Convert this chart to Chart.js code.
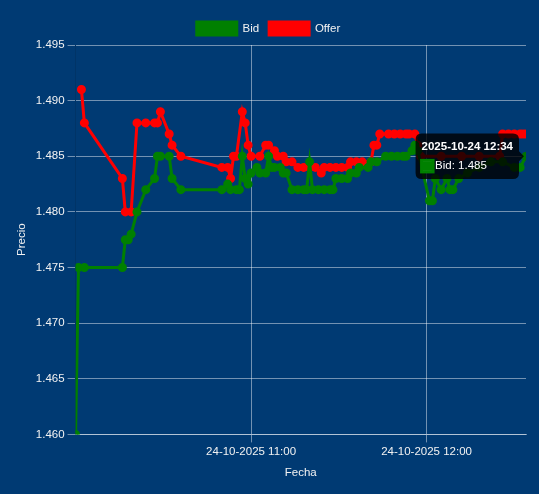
<!DOCTYPE html>
<html>
<head>
<meta charset="utf-8">
<script src="https://cdn.jsdelivr.net/npm/chart.js"></script>
<style>
  body { margin: 0; background: #003a73; }
  canvas { display: block; }
</style>
</head>
<body>
<canvas id="myChart" width="539" height="494"></canvas>
<script>
const fecha = "2025-10-24";
const fechaEje = "24-10-2025";

// Bid
const bidHoras = ["10:00", "10:01", "10:03", "10:16", "10:17", "10:18", "10:19", "10:21", "10:24", "10:27",
    "10:28", "10:29", "10:32", "10:33", "10:36", "10:50", "10:52", "10:53", "10:55", "10:56",
    "10:57", "10:58", "10:59", "11:00", "11:02", "11:03", "11:05", "11:06", "11:07", "11:08",
    "11:10", "11:11", "11:12", "11:14", "11:16", "11:18", "11:19", "11:20", "11:21", "11:23",
    "11:25", "11:27", "11:28", "11:29", "11:31", "11:33", "11:34", "11:36", "11:37", "11:40",
    "11:41", "11:43", "11:46", "11:48", "11:50", "11:52", "11:53", "11:55", "11:56", "11:57",
    "12:01", "12:02", "12:03", "12:05", "12:07", "12:08", "12:09", "12:11", "12:14", "12:18",
    "12:22", "12:26", "12:30", "12:32", "12:34"];
const bidValores = [1.460, 1.475, 1.475, 1.475, 1.4775, 1.4775, 1.478, 1.480, 1.482, 1.483,
    1.485, 1.485, 1.485, 1.483, 1.482, 1.482, 1.4825, 1.482, 1.482, 1.482,
    1.485, 1.483, 1.4825, 1.4835, 1.484, 1.4835, 1.4835, 1.485, 1.484, 1.484,
    1.484, 1.4835, 1.4835, 1.482, 1.482, 1.482, 1.482, 1.4845, 1.482, 1.482,
    1.482, 1.482, 1.482, 1.483, 1.483, 1.483, 1.4835, 1.4835, 1.484, 1.484,
    1.4845, 1.4845, 1.485, 1.485, 1.485, 1.485, 1.485, 1.4855, 1.486, 1.4855,
    1.481, 1.481, 1.483, 1.482, 1.483, 1.482, 1.482, 1.483, 1.4835, 1.484,
    1.4845, 1.4845, 1.484, 1.484, 1.485];

// Offer
const offerHoras = ["10:02", "10:03", "10:16", "10:17", "10:19", "10:21", "10:24", "10:27", "10:28", "10:29",
    "10:32", "10:33", "10:36", "10:50", "10:52", "10:53", "10:54", "10:55", "10:57", "10:58",
    "10:59", "11:00", "11:03", "11:05", "11:06", "11:08", "11:09", "11:11", "11:12", "11:14",
    "11:16", "11:18", "11:20", "11:22", "11:24", "11:25", "11:27", "11:29", "11:31", "11:33",
    "11:34", "11:36", "11:38", "11:41", "11:42", "11:43", "11:44", "11:47", "11:49", "11:51",
    "11:53", "11:54", "11:56", "11:57", "11:58", "12:05", "12:12", "12:18", "12:25", "12:26",
    "12:28", "12:30", "12:32", "12:33", "12:34"];
const offerValores = [1.491, 1.488, 1.483, 1.480, 1.480, 1.488, 1.488, 1.488, 1.488, 1.489,
    1.487, 1.486, 1.485, 1.484, 1.484, 1.483, 1.485, 1.485, 1.489, 1.488,
    1.486, 1.485, 1.485, 1.486, 1.486, 1.4855, 1.485, 1.485, 1.4845, 1.4845,
    1.484, 1.484, 1.484, 1.484, 1.4835, 1.484, 1.484, 1.484, 1.484, 1.484,
    1.4845, 1.4845, 1.4845, 1.4845, 1.486, 1.486, 1.487, 1.487, 1.487, 1.487,
    1.487, 1.487, 1.487, 1.486, 1.485, 1.485, 1.485, 1.485, 1.485, 1.487,
    1.487, 1.487, 1.487, 1.487, 1.487];

// eje y
const precioMin = 1.460;
const precioMax = 1.495;
const precioPaso = 0.005;
// eje x (minutos desde las 10:00)
const horaInicio = "10:00";
const horaFin = "12:34";
const horasEje = ["11:00", "12:00"];

function aMinutos(hora) {
    const [hh, mm] = hora.split(":").map(Number);
    return (hh - 10) * 60 + mm;
}

function aHora(min) {
    const hh = 10 + Math.floor(min / 60);
    const mm = Math.round(min % 60);
    return String(hh).padStart(2, "0") + ":" + String(mm).padStart(2, "0");
}

function armarSerie(horas, valores) {
    return horas.map((h, i) => ({ x: aMinutos(h), y: valores[i] }));
}

const colorTexto = "#f2f2f2";
const colorGrilla = "rgba(255, 255, 255, 0.45)";

Chart.defaults.font.size = 11.5;

const data = {
    datasets: [{
        label: "Bid",
        data: armarSerie(bidHoras, bidValores),
        borderColor: "green",
        backgroundColor: "green",
        borderWidth: 3,
        pointRadius: 3
    }, {
        label: "Offer",
        data: armarSerie(offerHoras, offerValores),
        borderColor: "red",
        backgroundColor: "red",
        borderWidth: 3,
        pointRadius: 3
    }]
};

const config = {
    type: "line",
    data,
    options: {
        responsive: false,
        animation: false,
        layout: { padding: { top: 12, left: 11, right: 13, bottom: 10 } },
        plugins: {
            legend: {
                labels: { color: colorTexto, boxHeight: 13 }
            },
            tooltip: {
                callbacks: {
                    title: (items) => fecha + " " + aHora(items[0].parsed.x)
                }
            }
        },
        scales: {
            x: {
                type: "linear",
                min: aMinutos(horaInicio),
                max: aMinutos(horaFin),
                afterBuildTicks: (axis) => {
                    axis.ticks = horasEje.map((h) => ({ value: aMinutos(h) }));
                },
                ticks: {
                    color: colorTexto,
                    callback: (v) => fechaEje + " " + aHora(v)
                },
                grid: { color: colorGrilla },
                border: { color: colorGrilla },
                title: { display: true, text: "Fecha", color: colorTexto }
            },
            y: {
                min: precioMin,
                max: precioMax,
                ticks: {
                    stepSize: precioPaso,
                    color: colorTexto,
                    callback: (v) => v.toFixed(3)
                },
                grid: { color: colorGrilla },
                title: { display: true, text: "Precio", color: colorTexto }
            }
        }
    }
};

const myChart = new Chart(document.getElementById("myChart"), config);

// tooltip fijo en el ultimo Bid
const ultimo = bidValores.length - 1;
const punto = myChart.getDatasetMeta(0).data[ultimo];
myChart.setActiveElements([{ datasetIndex: 0, index: ultimo }]);
myChart.tooltip.setActiveElements([{ datasetIndex: 0, index: ultimo }], { x: punto.x, y: punto.y });
myChart.update();
</script>
</body>
</html>
